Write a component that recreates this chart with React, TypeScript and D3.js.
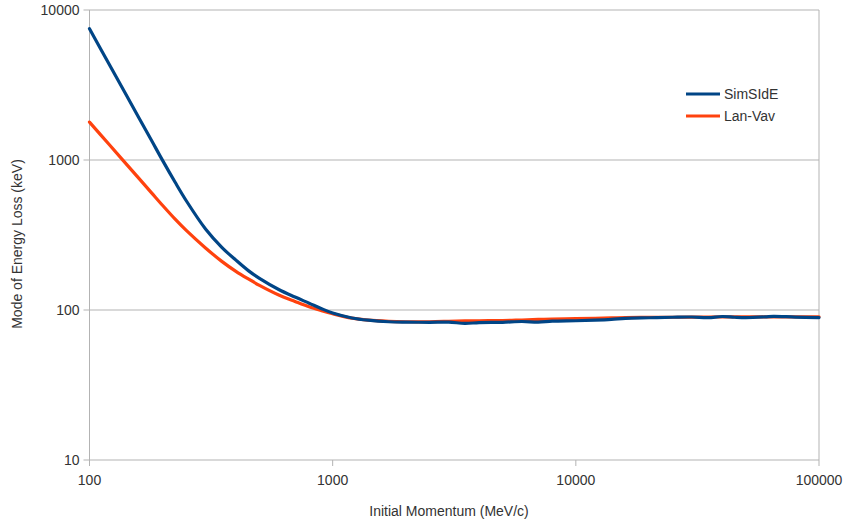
import React from "react";
import * as d3 from "d3";

// Initial momentum grid (MeV/c)
const momentum = [
  100, 120, 140, 160, 180, 200, 225, 250, 300, 350, 400, 450, 500, 600, 700, 800, 900,
  1000, 1200, 1400, 1700, 2000, 2500, 3000, 3500, 4000, 5000, 6000, 7000, 8000,
  10000, 12000, 14000, 16000, 20000, 25000, 30000, 35000, 40000, 45000, 50000,
  60000, 65000, 80000, 100000,
];

// Mode of energy loss (keV), SimSIdE simulation
const simSIdE = [
  7500, 4400, 2810, 1900, 1349, 990, 710, 535, 347, 262, 215, 183, 162.5, 137, 122, 111, 102,
  95.5, 88.5, 85.5, 83.5, 83, 82.8, 83, 81.5, 82.4, 82.8, 83.8, 83, 84.2,
  84.8, 85.5, 86.5, 88, 88.8, 89.5, 89.8, 88.9, 90.5, 89.5, 89,
  90, 90.8, 89.6, 89,
];

// Mode of energy loss (keV), Landau-Vavilov
const lanVav = [
  1790, 1278, 961, 751, 604, 497, 403, 339, 259, 211, 181, 161, 146, 126, 114, 105, 99,
  94.4, 88.2, 85.5, 84, 83.5, 83.5, 84, 84.5, 84.8, 85, 85.8, 86.5, 87,
  87.5, 88, 88.5, 89, 89.3, 89.5, 89.7, 89.8, 89.9, 89.9, 90,
  90, 90, 90, 90,
];

const xTicks = [100, 1000, 10000, 100000];
const yTicks = [10, 100, 1000, 10000];

const seriesNames = ["SimSIdE", "Lan-Vav"];
const seriesColors = ["#004586", "#ff420e"];

const W = 845;
const H = 525;
const plot = { left: 89.5, right: 819, top: 10, bottom: 460 };
const font = "'Liberation Sans', Arial, sans-serif";
const grid = "#b3b3b3";

export default function App() {
  const x = d3.scaleLog().domain([100, 100000]).range([plot.left, plot.right]);
  const y = d3.scaleLog().domain([10, 10000]).range([plot.bottom, plot.top]);

  const line = d3
    .line<number>()
    .x((_, i) => x(momentum[i]))
    .y((v) => y(v))
    .curve(d3.curveCatmullRom.alpha(0.5));

  const series = [simSIdE, lanVav];

  return (
    <svg
      width={W}
      height={H}
      style={{ position: "absolute", left: 0, top: 0, background: "#fff" }}
      fontFamily={font}
    >
      {/* horizontal gridlines with y tick labels */}
      {yTicks.map((t) => (
        <g key={"y" + t}>
          <line x1={plot.left - 6} x2={plot.right} y1={y(t)} y2={y(t)} stroke={grid} strokeWidth={1} />
          <text x={plot.left - 10} y={y(t)} dy="0.35em" textAnchor="end" fontSize={14} fill="#333">
            {t}
          </text>
        </g>
      ))}
      {/* y axis and right border */}
      <line x1={plot.left} x2={plot.left} y1={plot.top} y2={plot.bottom} stroke={grid} strokeWidth={1} />
      <line x1={plot.right} x2={plot.right} y1={plot.top} y2={plot.bottom} stroke={grid} strokeWidth={1} />
      {/* x ticks */}
      {xTicks.map((t) => (
        <g key={"x" + t}>
          <line x1={x(t)} x2={x(t)} y1={plot.bottom} y2={plot.bottom + 6} stroke={grid} strokeWidth={1} />
          <text x={x(t)} y={plot.bottom + 25} textAnchor="middle" fontSize={14} fill="#333">
            {t}
          </text>
        </g>
      ))}

      {/* series, first series drawn on top */}
      {series
        .map((s, i) => (
          <path
            key={seriesNames[i]}
            d={line(s) ?? ""}
            fill="none"
            stroke={seriesColors[i]}
            strokeWidth={3.2}
            strokeLinejoin="round"
            strokeLinecap="round"
          />
        ))
        .reverse()}

      {/* axis titles */}
      <text x={449} y={516} textAnchor="middle" fontSize={14} fill="#333">
        Initial Momentum (MeV/c)
      </text>
      <text
        transform={`translate(22,${244}) rotate(-90)`}
        textAnchor="middle"
        fontSize={14}
        fill="#333"
      >
        Mode of Energy Loss (keV)
      </text>

      {/* legend */}
      {seriesNames.map((n, i) => (
        <g key={"lg" + n} transform={`translate(686,${94 + i * 22})`}>
          <line x1={0} x2={34} y1={0} y2={0} stroke={seriesColors[i]} strokeWidth={3.2} />
          <text x={38} y={0} dy="0.35em" fontSize={14} fill="#333">
            {n}
          </text>
        </g>
      ))}
    </svg>
  );
}
